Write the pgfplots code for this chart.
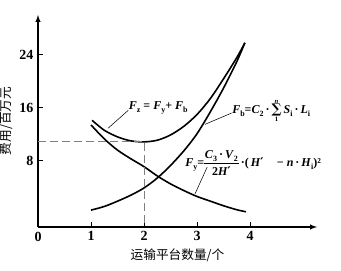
\documentclass[border=0pt]{standalone}
\usepackage{pgfplots}
\pgfplotsset{compat=1.18}
\usepackage{fontspec}
\setmainfont{Liberation Serif}
\newfontfamily\cjk{Noto Sans CJK SC}
\newfontfamily\sym{DejaVu Serif}
\newcommand\lfont{\fontsize{9.5}{11}\selectfont}
\newcommand\ffont{\fontsize{9}{10}\selectfont\bfseries}
\newcommand\tfont{\fontsize{10.5}{12}\selectfont\bfseries}
\newcommand\xlab{\cjk 运输平台数量/个}
\newcommand\ylab{\cjk 费用/百万元}
\newcommand\sub[1]{\raisebox{-0.45ex}{\fontsize{6}{7}\selectfont\bfseries #1}}
\newcommand\bi[1]{\textbf{\textit{#1}}}
\newcommand\pr{{\sym\bfseries ′}}
\newcommand\fzlabel{\bi{F}\sub{z} = \bi{F}\sub{y}+ \bi{F}\sub{b}}
\newcommand\fblabel{\bi{F}\sub{b}=\bi{C}\sub{2}\,·\,\makebox[0pt][l]{\raisebox{7.5pt}{\hspace{2.2pt}\fontsize{5}{5}\selectfont\bi{n}}}\makebox[0pt][l]{\raisebox{-6pt}{\hspace{2.4pt}\fontsize{5}{5}\selectfont 1}}{\sym\fontsize{10}{10}\selectfont ∑}\,\bi{S}\sub{i}\,·\,\bi{L}\sub{i}}
\newcommand\fylabel{\bi{F}\sub{y}=\makebox[0pt][l]{\raisebox{6pt}{\makebox[26pt][c]{\bi{C}\sub{3}\,·\,\bi{V}\sub{2}}}}\makebox[0pt][l]{\raisebox{-6.5pt}{\makebox[26pt][c]{\textbf{2}\bi{H}\pr}}}\raisebox{2.6pt}{\rule{26pt}{0.5pt}}\,·(\,\bi{H}\pr\hspace{10pt}− \bi{n}\,·\,\bi{H}\sub{i})²}
\begin{document}
\begin{tikzpicture}
\begin{axis}[
  name=ax,
  scale only axis,
  width=209.25pt, height=159pt,
  xmin=0, xmax=5.26, ymin=-2, ymax=30,
  axis lines=left,
  axis line style={line width=0.8pt},
  x axis line style={-latex},
  y axis line style={-latex},
  xtick={0,1,2,3,4},
  ytick={8,16,24},
  tick align=inside,
  major tick length=4pt,
  tick style={line width=0.6pt, black},
  every tick label/.append style={font=\tfont},
  /pgf/number format/assume math mode=true,
  xlabel={\xlab},
  ylabel={\ylab},
  label style={font=\lfont},
  xlabel style={yshift=1pt},
  ylabel style={yshift=-2pt},
  clip=false,
]
\addplot[smooth, line width=1.2pt] coordinates {
(1,13.4) (1.25,11.3) (1.5,9.6) (1.75,8.3) (2,7.1) (2.25,5.7) (2.5,4.5) (2.75,3.5) (3,2.6) (3.25,1.9) (3.5,1.2) (3.75,0.6) (3.92,0.3)};
\addplot[smooth, line width=1.2pt] coordinates {
(1,0.55) (1.25,1.1) (1.5,1.9) (1.75,2.8) (2,3.9) (2.25,5.4) (2.5,7.3) (2.75,9.5) (3,12.1) (3.25,15.4) (3.5,19) (3.75,23) (3.9,25.8)};
\addplot[smooth, line width=1.2pt] coordinates {
(1.02,14.1) (1.25,12.6) (1.5,11.6) (1.75,11.0) (2,10.85) (2.25,11.1) (2.5,11.9) (2.75,13.2) (3,15.0) (3.25,17.4) (3.5,20.4) (3.75,23.6) (3.9,25.8)};
\addplot[gray, line width=0.8pt, dash pattern=on 6pt off 3pt] coordinates {(0,10.9) (2,10.9) (2,-2)};
\addplot[line width=0.4pt] coordinates {(1.32,12.9) (1.70,15.6)};
\addplot[line width=0.4pt] coordinates {(3.15,13.5) (3.65,15.2)};
\addplot[line width=0.4pt] coordinates {(2.96,3.0) (3.19,7.05)};
\end{axis}
\node[anchor=west, inner sep=0pt, font=\ffont] at ([shift={(68pt,89.25pt)}]ax.south west) {\fzlabel};
\node[anchor=west, inner sep=0pt, font=\ffont] at ([shift={(145.5pt,87pt)}]ax.south west) {\fblabel};
\node[anchor=west, inner sep=0pt, font=\ffont] at ([shift={(110.25pt,48pt)}]ax.south west) {\fylabel};
\pgfresetboundingbox
\path[use as bounding box] ([shift={(-28.5pt,-32.25pt)}]ax.south west) rectangle ([shift={(18pt,11.25pt)}]ax.north east);
\end{tikzpicture}
\end{document}
